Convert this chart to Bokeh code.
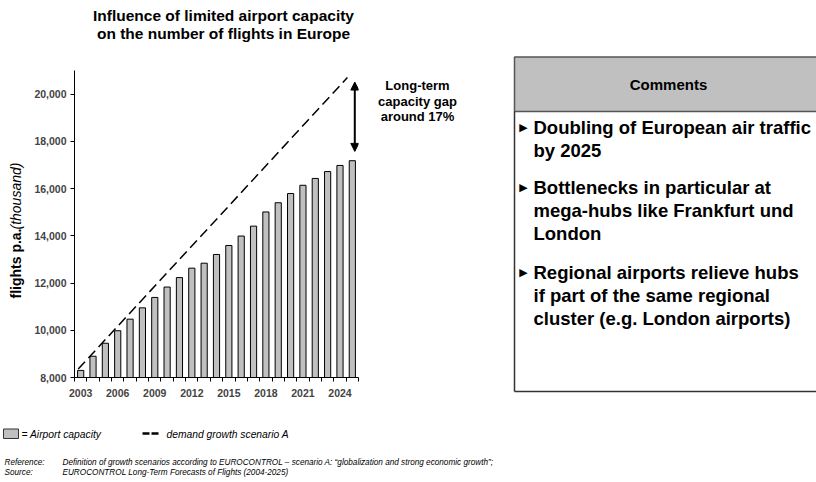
import math
from bokeh.plotting import figure
from bokeh.models import Range1d, FixedTicker, NumeralTickFormatter, Arrow, NormalHead
from bokeh.layouts import column, row
from bokeh.core.properties import value
from bokeh.embed import file_html
from bokeh.resources import INLINE

FONT = "Liberation Sans"

# ---------------- data ----------------
years = list(range(2003, 2026))
capacity = [8300, 8900, 9450, 9980, 10470, 10950, 11390, 11830, 12230, 12630, 12840,
            13210, 13590, 13990, 14410, 15010, 15400, 15790, 16140, 16430, 16720,
            16980, 17180]
demand_years = [2002.8, 2024.6]
demand = [8360, 20700]
gap_year = 2025.2
gap_top = 20510
gap_bottom = 17575
y_ticks = [8000, 10000, 12000, 14000, 16000, 18000, 20000]
x_label_years = [2003, 2006, 2009, 2012, 2015, 2018, 2021, 2024]

title_lines = ["Influence of limited airport capacity", "on the number of flights in Europe"]
y_label_bold = "flights p.a."
y_label_italic = "(thousand)"
gap_lines = ["Long-term", "capacity gap", "around 17%"]
comments_header = "Comments"
comment_lines = [
    ["Doubling of European air traffic", "by 2025"],
    ["Bottlenecks in particular at", "mega-hubs like Frankfurt und", "London"],
    ["Regional airports relieve hubs", "if part of the same regional", "cluster (e.g. London airports)"],
]
legend_bar = "= Airport capacity"
legend_line = "demand growth scenario A"
ref_key = ["Reference:", "Source:"]
ref_text = ["Definition of growth scenarios according to EUROCONTROL \u2013 scenario A: \u201cglobalization and strong economic growth\u201d;",
            "EUROCONTROL  Long-Term Forecasts of Flights (2004-2025)"]


def canvas_fig(xa, xb, ya, yb):
    """A plain figure whose data units are page pixels (y downward)."""
    f = figure(width=xb - xa, height=yb - ya, x_range=Range1d(xa, xb), y_range=Range1d(yb, ya),
               output_backend="svg", toolbar_location=None, min_border=0)
    f.axis.visible = False
    f.grid.visible = False
    f.outline_line_color = None
    f.background_fill_color = "white"
    f.border_fill_color = "white"
    return f


TOP = 50      # page y where chart row starts
MID = 410     # page y where footer starts
LEFT = 28     # page x where chart fig starts
RIGHT = 366   # page x where right panel starts

# ---------------- top (title) ----------------
top = canvas_fig(0, 816, 0, TOP)
top.text(x=[223, 223], y=[15, 33], text=title_lines, text_font=value(FONT),
         text_font_style="bold", text_font_size="15.5px", text_align="center",
         text_baseline="middle", text_color="black")

# ---------------- y label ----------------
ylab = canvas_fig(0, LEFT, TOP, MID)
ylab.text(x=[15], y=[298], text=[y_label_bold], angle=math.pi / 2, text_font=value(FONT),
          text_font_style="bold", text_font_size="14px", text_align="left",
          text_baseline="middle", text_color="black")
ylab.text(x=[15], y=[229], text=[y_label_italic], angle=math.pi / 2, text_font=value(FONT),
          text_font_style="italic", text_font_size="14px", text_align="left",
          text_baseline="middle", text_color="black")

# ---------------- chart ----------------
x0, x1 = 2002.5, 2025.5
y0, y1 = 8000, 21000
p = figure(width=RIGHT - LEFT, height=MID - TOP, x_range=Range1d(x0, x1),
           y_range=Range1d(y0, y1), output_backend="svg", toolbar_location=None,
           min_border_left=74 - LEFT, min_border_right=RIGHT - 358,
           min_border_top=70 - TOP, min_border_bottom=MID - 377)
p.outline_line_color = None
p.xgrid.visible = False
p.ygrid.visible = False
p.background_fill_color = "white"
p.border_fill_color = "white"

p.vbar(x=years, top=capacity, bottom=y0, width=0.5, fill_color="#c0c0c0",
       line_color="black", line_width=1)
p.line(demand_years, demand, line_color="black", line_width=1.5, line_dash="10 5")
p.add_layout(Arrow(start=NormalHead(size=8, fill_color="black", line_color="black"),
                   end=NormalHead(size=8, fill_color="black", line_color="black"),
                   x_start=gap_year, y_start=gap_bottom, x_end=gap_year, y_end=gap_top,
                   line_width=2, line_color="black"))

p.yaxis.ticker = FixedTicker(ticks=y_ticks)
p.yaxis.formatter = NumeralTickFormatter(format="0,0")
p.yaxis.major_tick_out = 4
p.yaxis.major_tick_in = 0
p.yaxis.minor_tick_out = 0
p.yaxis.minor_tick_in = 0
p.yaxis.major_label_text_font = FONT
p.yaxis.major_label_text_font_style = "bold"
p.yaxis.major_label_text_font_size = "10.5px"
p.yaxis.major_label_standoff = 4
p.yaxis.axis_line_color = "black"

p.xaxis.ticker = FixedTicker(ticks=x_label_years,
                             minor_ticks=[y - 0.5 for y in years] + [years[-1] + 0.5])
p.xaxis.major_tick_out = 0
p.xaxis.major_tick_in = 0
p.xaxis.minor_tick_out = 4
p.xaxis.minor_tick_in = 0
p.xaxis.major_label_text_font = FONT
p.xaxis.major_label_text_font_style = "bold"
p.xaxis.major_label_text_font_size = "10.5px"
p.xaxis.major_label_standoff = 7
p.xaxis.axis_line_color = "black"

# ---------------- right panel (gap note + comments) ----------------
c = canvas_fig(RIGHT, 816, TOP, MID)
c.text(x=[417] * 3, y=[85, 101, 116], text=gap_lines, text_font=value(FONT),
       text_font_style="bold", text_font_size="13px", text_align="center",
       text_baseline="middle", text_color="black")
c.quad(left=[514], right=[820], top=[56.5], bottom=[111], fill_color="#c0c0c0",
       line_color="#555555", line_width=1.5)
c.segment(x0=[514, 514], y0=[111, 391], x1=[514, 820], y1=[391, 391],
          line_color="#333333", line_width=1.5)
c.text(x=[668], y=[84], text=[comments_header], text_font=value(FONT),
       text_font_style="bold", text_font_size="15px", text_align="center",
       text_baseline="middle", text_color="black")
starts = [127, 187, 272]
lh = 23.2
tx, ty, tt, bx, by = [], [], [], [], []
for s, lines in zip(starts, comment_lines):
    bx.append(523)
    by.append(s)
    for k, ln in enumerate(lines):
        tx.append(533)
        ty.append(s + k * lh)
        tt.append(ln)
c.text(x=tx, y=ty, text=tt, text_font=value(FONT), text_font_style="bold",
       text_font_size="18.5px", text_align="left", text_baseline="middle", text_color="black")
c.text(x=bx, y=by, text=["\u25b6"] * len(bx), text_font=value("DejaVu Sans"),
       text_font_size="11px", text_align="center", text_baseline="middle", text_color="black")

# ---------------- footer ----------------
f = canvas_fig(0, 816, MID, 482)
f.quad(left=[3], right=[18], top=[428.5], bottom=[438], fill_color="#c0c0c0",
       line_color="#333333", line_width=1)
f.text(x=[21], y=[433.5], text=[legend_bar], text_font=value(FONT), text_font_style="italic",
       text_font_size="10.3px", text_baseline="middle", text_color="black")
f.segment(x0=[142, 151], y0=[433, 433], x1=[149, 158], y1=[433, 433],
          line_color="black", line_width=2.5)
f.text(x=[166], y=[433.5], text=[legend_line], text_font=value(FONT), text_font_style="italic",
       text_font_size="10.3px", text_baseline="middle", text_color="black")
f.text(x=[4, 4], y=[462, 472], text=ref_key, text_font=value(FONT), text_font_style="italic",
       text_font_size="8.2px", text_baseline="middle", text_color="black")
f.text(x=[62, 62], y=[462, 472], text=ref_text, text_font=value(FONT), text_font_style="italic",
       text_font_size="8.2px", text_baseline="middle", text_color="black")

layout = column(top, row(column(ylab), p, column(c)), f)
open("out.html", "w").write(file_html(layout, INLINE))
